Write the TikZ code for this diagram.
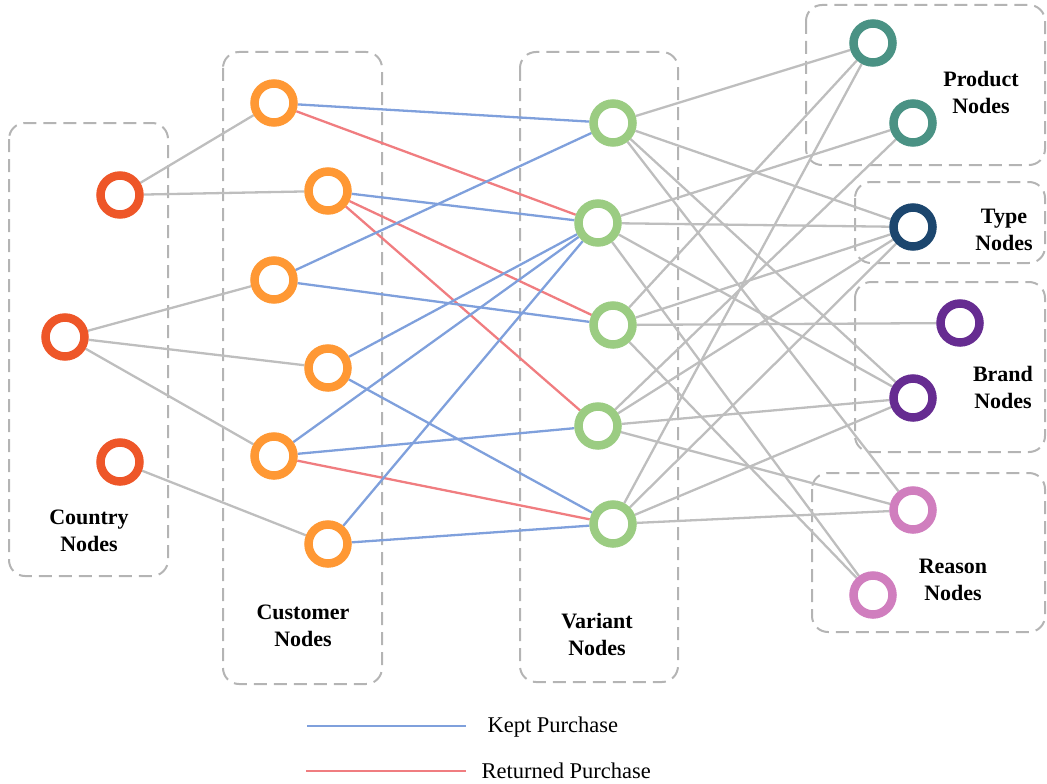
\documentclass[tikz,border=0pt]{standalone}
\usepackage{fontspec}
\setmainfont{Liberation Serif}
\usetikzlibrary{backgrounds}
\definecolor{cCountry}{RGB}{238,86,40}
\definecolor{cCustomer}{RGB}{255,152,52}
\definecolor{cVariant}{RGB}{155,204,130}
\definecolor{cProduct}{RGB}{74,146,132}
\definecolor{cType}{RGB}{28,70,110}
\definecolor{cBrand}{RGB}{102,44,145}
\definecolor{cReason}{RGB}{208,126,190}
\definecolor{eBlue}{RGB}{127,160,220}
\definecolor{eRed}{RGB}{240,125,128}
\definecolor{eGray}{RGB}{190,190,190}
\definecolor{boxGray}{RGB}{180,180,180}
\begin{document}
\begin{tikzpicture}[x=1pt,y=-1pt,
  nd/.style={circle, draw=#1, line width=8.5pt, fill=white, minimum size=39pt, inner sep=0pt},
  grp/.style={draw=boxGray, line width=2pt, dash pattern=on 13pt off 7pt, rounded corners=16pt},
  lab/.style={font=\fontsize{22}{27}\selectfont\bfseries, align=center},
  leg/.style={font=\fontsize{22.5}{27}\selectfont, anchor=west},
  gedge/.style={draw=eGray, line width=2.3pt},
  kept/.style={draw=eBlue, line width=2.3pt},
  ret/.style={draw=eRed, line width=2.3pt}]
\useasboundingbox (0,0) rectangle (1047,784);
% nodes
\node[nd=cCountry] (C1) at (120,195) {};
\node[nd=cCountry] (C2) at (65,337) {};
\node[nd=cCountry] (C3) at (120,462) {};
\node[nd=cCustomer] (U1) at (274,103) {};
\node[nd=cCustomer] (U2) at (328,191) {};
\node[nd=cCustomer] (U3) at (274,280) {};
\node[nd=cCustomer] (U4) at (328,368) {};
\node[nd=cCustomer] (U5) at (274,456) {};
\node[nd=cCustomer] (U6) at (328,544) {};
\node[nd=cVariant] (V1) at (613,123) {};
\node[nd=cVariant] (V2) at (598,223) {};
\node[nd=cVariant] (V3) at (613,325) {};
\node[nd=cVariant] (V4) at (598,426) {};
\node[nd=cVariant] (V5) at (613,524) {};
\node[nd=cProduct] (P1) at (873,43) {};
\node[nd=cProduct] (P2) at (913,123) {};
\node[nd=cType] (T) at (913,227) {};
\node[nd=cBrand] (B1) at (960,323) {};
\node[nd=cBrand] (B2) at (913,398) {};
\node[nd=cReason] (R1) at (913,510) {};
\node[nd=cReason] (R2) at (873,595) {};
% labels
\node[lab] (LC) at (89,531) {Country\\Nodes};
\node[lab] (LU) at (303,626) {Customer\\Nodes};
\node[lab] (LV) at (597,634) {Variant\\Nodes};
\node[lab] (LP) at (981,92) {Product\\Nodes};
\node[lab] (LT) at (1004,230) {Type\\Nodes};
\node[lab] (LB) at (1003,387) {Brand\\Nodes};
\node[lab] (LR) at (953,580) {Reason\\Nodes};
% legend
\coordinate (k1) at (307,726);
\coordinate (k2) at (466,726);
\coordinate (r1) at (306,771);
\coordinate (r2) at (466,771);
\node[leg] (LK) at (484,727) {Kept Purchase};
\node[leg] (LRt) at (478,771) {Returned Purchase};
\draw[kept] (k1) -- (k2);
\draw[ret] (r1) -- (r2);
\begin{scope}[on background layer]
% group boxes
\draw[grp] (9,123) rectangle (168,576);
\draw[grp] (223,52) rectangle (382,684);
\draw[grp] (520,52) rectangle (678,682);
\draw[grp] (806,5) rectangle (1045,165);
\draw[grp] (855,182) rectangle (1045,263);
\draw[grp] (855,282) rectangle (1045,452);
\draw[grp] (812,473) rectangle (1045,632);
% country - customer
\draw[gedge] (C1) -- (U1);
\draw[gedge] (C1) -- (U2);
\draw[gedge] (C2) -- (U3);
\draw[gedge] (C2) -- (U4);
\draw[gedge] (C2) -- (U5);
\draw[gedge] (C3) -- (U6);
% customer - variant
\draw[kept] (U1) -- (V1);
\draw[ret] (U1) -- (V2);
\draw[kept] (U2) -- (V2);
\draw[ret] (U2) -- (V3);
\draw[ret] (U2) -- (V4);
\draw[kept] (U3) -- (V1);
\draw[kept] (U3) -- (V3);
\draw[kept] (U4) -- (V2);
\draw[kept] (U4) -- (V5);
\draw[kept] (U5) -- (V2);
\draw[kept] (U5) -- (V4);
\draw[ret] (U5) -- (V5);
\draw[kept] (U6) -- (V2);
\draw[kept] (U6) -- (V5);
% variant - attributes
\draw[gedge] (V1) -- (P1);
\draw[gedge] (V1) -- (T);
\draw[gedge] (V1) -- (B2);
\draw[gedge] (V1) -- (R1);
\draw[gedge] (V2) -- (P2);
\draw[gedge] (V2) -- (T);
\draw[gedge] (V2) -- (B2);
\draw[gedge] (V2) -- (R2);
\draw[gedge] (V3) -- (P1);
\draw[gedge] (V3) -- (T);
\draw[gedge] (V3) -- (B1);
\draw[gedge] (V3) -- (R2);
\draw[gedge] (V4) -- (P2);
\draw[gedge] (V4) -- (T);
\draw[gedge] (V4) -- (B2);
\draw[gedge] (V4) -- (R1);
\draw[gedge] (V5) -- (P1);
\draw[gedge] (V5) -- (T);
\draw[gedge] (V5) -- (B2);
\draw[gedge] (V5) -- (R1);
\end{scope}
\end{tikzpicture}
\end{document}
